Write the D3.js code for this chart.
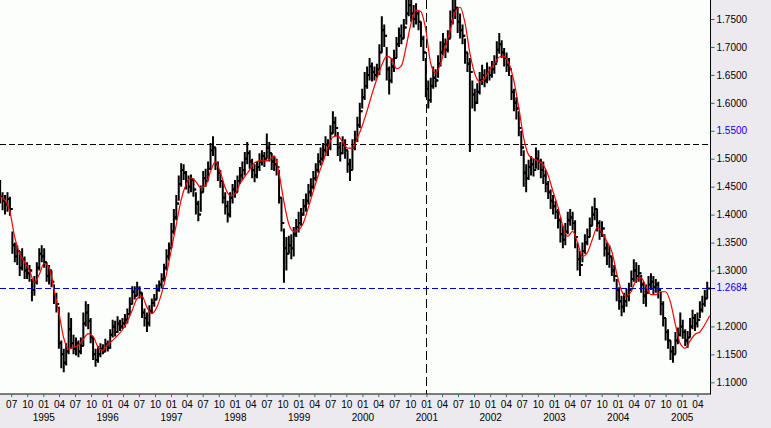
<!DOCTYPE html>
<html><head><meta charset="utf-8">
<script src="https://cdn.jsdelivr.net/npm/d3@7/dist/d3.min.js"></script>
<style>html,body{margin:0;padding:0;background:#ECEAEE;}svg{display:block;}</style>
</head><body>
<script>
// ---- data ----
const startDate = "1994-04-29";   // first bar
const barStepDays = 14;           // one bar every two weeks
const closes = [
1.432,1.425,1.418,1.428,1.410, 1.345,1.325,1.335,1.305,1.320,
1.300,1.295,1.300,1.265,1.280, 1.305,1.330,1.325,1.315,1.290,
1.300,1.280,1.255,1.240,1.170, 1.150,1.135,1.155,1.195,1.170,
1.160,1.170,1.155,1.165,1.205, 1.225,1.210,1.180,1.150,1.140,
1.150,1.160,1.155,1.168,1.162, 1.185,1.200,1.190,1.205,1.200,
1.205,1.212,1.222,1.240,1.262, 1.255,1.268,1.260,1.225,1.215,
1.205,1.228,1.242,1.248,1.265, 1.275,1.285,1.305,1.325,1.340,
1.370,1.395,1.420,1.455,1.480, 1.475,1.460,1.450,1.462,1.445,
1.420,1.400,1.440,1.465,1.460, 1.482,1.515,1.520,1.490,1.475,
1.460,1.430,1.415,1.400,1.430, 1.445,1.440,1.460,1.470,1.480,
1.500,1.510,1.495,1.480,1.470, 1.485,1.495,1.505,1.500,1.520,
1.510,1.495,1.490,1.485,1.430, 1.385,1.340,1.330,1.345,1.340,
1.365,1.378,1.385,1.400,1.415, 1.425,1.440,1.450,1.465,1.480,
1.495,1.500,1.515,1.525,1.520, 1.545,1.565,1.555,1.520,1.510,
1.525,1.515,1.490,1.480,1.520, 1.535,1.560,1.585,1.610,1.630,
1.650,1.665,1.655,1.650,1.660, 1.690,1.730,1.720,1.660,1.640,
1.665,1.680,1.705,1.720,1.715, 1.735,1.760,1.775,1.760,1.750,
1.760,1.745,1.715,1.690,1.625, 1.605,1.630,1.645,1.640,1.670,
1.690,1.705,1.695,1.715,1.745, 1.765,1.770,1.745,1.730,1.720,
1.690,1.670,1.655,1.615,1.600, 1.620,1.640,1.650,1.640,1.655,
1.650,1.660,1.670,1.695,1.705, 1.690,1.680,1.668,1.660,1.620,
1.600,1.590,1.555,1.520,1.475, 1.465,1.485,1.490,1.480,1.500,
1.495,1.480,1.470,1.455,1.440, 1.425,1.415,1.405,1.390,1.365,
1.355,1.370,1.390,1.395,1.385, 1.360,1.320,1.310,1.335,1.350,
1.360,1.380,1.400,1.410,1.385, 1.370,1.375,1.340,1.330,1.325,
1.300,1.290,1.265,1.245,1.235, 1.245,1.255,1.265,1.285,1.300,
1.290,1.295,1.275,1.255,1.260, 1.275,1.280,1.270,1.275,1.265,
1.240,1.215,1.190,1.175,1.155, 1.150,1.175,1.185,1.200,1.190,
1.175,1.180,1.200,1.215,1.205, 1.212,1.230,1.240,1.250,1.268
];
const highs = [
1.462,1.440,1.435,1.440,1.432, 1.370,1.350,1.345,1.335,1.340,
1.325,1.315,1.310,1.285,1.290, 1.315,1.340,1.345,1.340,1.315,
1.310,1.300,1.275,1.260,1.235, 1.175,1.160,1.170,1.225,1.215,
1.185,1.180,1.175,1.180,1.225, 1.245,1.240,1.215,1.180,1.160,
1.165,1.170,1.168,1.178,1.175, 1.195,1.212,1.210,1.218,1.212,
1.215,1.222,1.232,1.252,1.272, 1.272,1.280,1.272,1.260,1.232,
1.225,1.238,1.250,1.258,1.275, 1.282,1.295,1.312,1.338,1.350,
1.385,1.410,1.435,1.470,1.492, 1.490,1.478,1.470,1.472,1.465,
1.440,1.425,1.452,1.478,1.482, 1.495,1.528,1.540,1.520,1.495,
1.480,1.460,1.440,1.425,1.440, 1.455,1.462,1.470,1.485,1.495,
1.512,1.530,1.515,1.500,1.490, 1.495,1.510,1.515,1.512,1.545,
1.530,1.510,1.505,1.500,1.480, 1.430,1.375,1.360,1.362,1.365,
1.378,1.392,1.405,1.412,1.428, 1.438,1.455,1.465,1.478,1.492,
1.510,1.520,1.528,1.540,1.535, 1.560,1.585,1.575,1.548,1.530,
1.540,1.535,1.515,1.500,1.535, 1.550,1.575,1.600,1.625,1.655,
1.665,1.680,1.672,1.665,1.670, 1.705,1.755,1.740,1.700,1.665,
1.680,1.695,1.718,1.735,1.740, 1.750,1.790,1.800,1.790,1.775,
1.778,1.765,1.745,1.720,1.680, 1.640,1.645,1.665,1.660,1.685,
1.710,1.725,1.715,1.730,1.765, 1.790,1.795,1.770,1.760,1.740,
1.715,1.690,1.680,1.640,1.625, 1.635,1.655,1.668,1.660,1.672,
1.665,1.675,1.685,1.710,1.725, 1.712,1.698,1.690,1.680,1.650,
1.625,1.610,1.585,1.550,1.515, 1.490,1.498,1.505,1.500,1.520,
1.515,1.500,1.495,1.480,1.460, 1.445,1.435,1.425,1.410,1.395,
1.380,1.385,1.405,1.410,1.405, 1.390,1.350,1.335,1.350,1.365,
1.375,1.395,1.415,1.430,1.410, 1.390,1.388,1.365,1.350,1.345,
1.325,1.310,1.285,1.270,1.255, 1.260,1.268,1.278,1.300,1.320,
1.315,1.310,1.292,1.280,1.275, 1.290,1.295,1.290,1.285,1.280,
1.262,1.245,1.215,1.195,1.175, 1.165,1.190,1.198,1.225,1.212,
1.195,1.192,1.215,1.230,1.222, 1.225,1.245,1.255,1.265,1.280
];
const lows = [
1.420,1.408,1.400,1.405,1.398, 1.330,1.315,1.310,1.290,1.300,
1.285,1.285,1.280,1.245,1.255, 1.275,1.300,1.315,1.305,1.280,
1.275,1.270,1.240,1.225,1.160, 1.125,1.118,1.130,1.150,1.160,
1.150,1.148,1.145,1.150,1.165, 1.200,1.195,1.170,1.140,1.128,
1.135,1.145,1.150,1.155,1.155, 1.160,1.180,1.182,1.188,1.192,
1.195,1.198,1.205,1.220,1.240, 1.248,1.255,1.250,1.215,1.200,
1.190,1.200,1.222,1.235,1.248, 1.262,1.268,1.280,1.300,1.318,
1.340,1.365,1.390,1.425,1.450, 1.462,1.445,1.438,1.440,1.432,
1.400,1.388,1.405,1.440,1.450, 1.462,1.480,1.505,1.480,1.460,
1.448,1.420,1.400,1.386,1.395, 1.420,1.430,1.440,1.455,1.462,
1.470,1.490,1.482,1.465,1.458, 1.465,1.478,1.488,1.485,1.500,
1.495,1.480,1.478,1.470,1.420, 1.370,1.278,1.300,1.330,1.320,
1.325,1.360,1.368,1.380,1.398, 1.405,1.418,1.432,1.445,1.460,
1.475,1.488,1.495,1.505,1.505, 1.515,1.545,1.540,1.505,1.495,
1.508,1.500,1.475,1.460,1.480, 1.515,1.530,1.555,1.590,1.605,
1.625,1.640,1.638,1.640,1.645, 1.650,1.690,1.700,1.640,1.615,
1.635,1.655,1.680,1.700,1.705, 1.715,1.740,1.755,1.745,1.735,
1.740,1.730,1.700,1.675,1.610, 1.590,1.600,1.625,1.628,1.645,
1.665,1.685,1.680,1.690,1.715, 1.740,1.750,1.725,1.715,1.705,
1.670,1.655,1.512,1.590,1.585, 1.598,1.615,1.632,1.628,1.635,
1.640,1.645,1.652,1.672,1.688, 1.680,1.665,1.655,1.648,1.605,
1.585,1.570,1.540,1.505,1.450, 1.440,1.462,1.470,1.468,1.482,
1.480,1.465,1.455,1.440,1.428, 1.410,1.400,1.392,1.375,1.350,
1.340,1.345,1.365,1.380,1.372, 1.340,1.300,1.290,1.315,1.330,
1.345,1.360,1.380,1.390,1.370, 1.355,1.360,1.325,1.310,1.305,
1.290,1.280,1.245,1.230,1.218, 1.225,1.235,1.245,1.270,1.280,
1.278,1.280,1.260,1.240,1.235, 1.260,1.265,1.258,1.260,1.250,
1.220,1.200,1.175,1.160,1.140, 1.135,1.150,1.168,1.182,1.178,
1.165,1.162,1.180,1.195,1.192, 1.198,1.215,1.225,1.235,1.250
];
// red moving-average line, one value every 28 days from startDate
const maStepDays = 28;
const maValues = [
1.432,1.426,1.405,1.359,1.330,1.315,1.300,1.279,1.293,1.313,
1.305,1.266,1.225,1.179,1.160,1.163,1.166,1.177,1.187,1.182,
1.163,1.157,1.168,1.175,1.184,1.194,1.209,1.229,1.250,1.254,
1.234,1.223,1.234,1.259,1.294,1.338,1.382,1.427,1.454,1.466,
1.459,1.448,1.452,1.477,1.495,1.476,1.448,1.434,1.437,1.455,
1.468,1.480,1.493,1.496,1.496,1.498,1.505,1.474,1.423,1.383,
1.370,1.373,1.386,1.413,1.442,1.470,1.495,1.520,1.539,1.541,
1.530,1.519,1.519,1.537,1.559,1.586,1.616,1.643,1.668,1.683,
1.679,1.661,1.666,1.702,1.743,1.766,1.763,1.730,1.670,1.653,
1.670,1.700,1.730,1.763,1.771,1.743,1.689,1.652,1.638,1.643,
1.658,1.670,1.682,1.683,1.670,1.639,1.591,1.537,1.507,1.500,
1.496,1.489,1.470,1.441,1.414,1.379,1.361,1.370,1.350,1.325,
1.332,1.355,1.377,1.368,1.352,1.334,1.295,1.264,1.254,1.263,
1.283,1.287,1.271,1.257,1.257,1.262,1.262,1.243,1.203,1.169,
1.161,1.174,1.186,1.190,1.203,1.219
];
const yTickValues = [1.75,1.70,1.65,1.60,1.55,1.50,1.45,1.40,1.35,1.30,1.20,1.15,1.10];
const blueTickLabels = ["1.5500"];
const lastPrice = 1.2684;
const lastPriceLabel = "1.2684";
const levelLine = 1.5265;
const markerDate = "2000-12-28";
const xDomainDates = ["1995-01-01","2005-01-01"];
const firstTick = "1994-07-01", lastTick = "2005-04-01";

// ---- layout ----
const W = 771, H = 428, plotR = 710.5, plotB = 394;
const parse = d3.timeParse("%Y-%m-%d");
const x = d3.scaleTime().domain(xDomainDates.map(parse)).range([43.3, 681.7]);
const y = d3.scaleLinear().domain([1.10, 1.75]).range([382.3, 19]);
const FONT = '"Liberation Sans", Arial, sans-serif';

const svg = d3.select("body").append("svg").attr("width", W).attr("height", H);
svg.append("rect").attr("width", W).attr("height", H).attr("fill", "#ECEAEE");
svg.append("rect").attr("x", 0).attr("y", 0).attr("width", plotR).attr("height", plotB).attr("fill", "#FBFEFB");
svg.append("defs").append("clipPath").attr("id", "clip")
  .append("rect").attr("x", 0).attr("y", 0).attr("width", plotR).attr("height", plotB);

const plot = svg.append("g").attr("clip-path", "url(#clip)");

// reference lines
plot.append("line").attr("x1", 0).attr("x2", plotR)
  .attr("y1", Math.round(y(levelLine)) + 0.5).attr("y2", Math.round(y(levelLine)) + 0.5)
  .attr("stroke", "#000").attr("stroke-dasharray", "6,3");
const mx = Math.round(x(parse(markerDate))) + 0.5;
plot.append("line").attr("x1", mx).attr("x2", mx).attr("y1", 0).attr("y2", plotB)
  .attr("stroke", "#000").attr("stroke-dasharray", "9,4");

// bars
const start = parse(startDate);
const bars = closes.map((c, i) => ({
  date: d3.timeDay.offset(start, i * barStepDays),
  o: i > 0 ? closes[i - 1] : c, h: highs[i], l: lows[i], c: c
}));
plot.append("g").selectAll("path").data(bars).join("path")
  .attr("fill", "none").attr("stroke", "#000").attr("stroke-width", 2)
  .attr("d", d => {
    const cx = x(d.date);
    return `M${cx},${y(d.h)}V${y(d.l)}M${cx - 2.8},${y(d.o)}H${cx}M${cx},${y(d.c)}H${cx + 2.8}`;
  });

// moving average
const ma = maValues.map((v, j) => ({ date: d3.timeDay.offset(start, j * maStepDays), v }));
plot.append("path").datum(ma)
  .attr("fill", "none").attr("stroke", "#FF0000").attr("stroke-width", 1.2)
  .attr("d", d3.line().x(d => x(d.date)).y(d => y(d.v)).curve(d3.curveMonotoneX));

// last price line (extends past the axis)
const ly = Math.round(y(lastPrice)) + 0.5;
svg.append("line").attr("x1", 0).attr("x2", 715).attr("y1", ly).attr("y2", ly)
  .attr("stroke", "#0000CC").attr("stroke-dasharray", "6,3");

// axis lines
svg.append("line").attr("x1", plotR).attr("x2", plotR).attr("y1", 0).attr("y2", plotB + 0.5).attr("stroke", "#000");
svg.append("line").attr("x1", 0).attr("x2", plotR).attr("y1", plotB).attr("y2", plotB).attr("stroke", "#000");

// y axis
const yAxis = svg.append("g").attr("transform", `translate(${plotR},0)`)
  .call(d3.axisRight(y).tickValues(yTickValues).tickFormat(d3.format(".4f")).tickSize(4).tickPadding(2));
yAxis.select(".domain").remove();
yAxis.selectAll(".tick line").attr("stroke", "#008080");
yAxis.selectAll(".tick text").attr("font-family", FONT).attr("font-size", 10)
  .attr("fill", function () { return blueTickLabels.includes(this.textContent) ? "#0000FF" : "#000"; });
svg.append("text").attr("x", plotR + 6).attr("y", y(lastPrice)).attr("dy", "0.32em")
  .attr("font-family", FONT).attr("font-size", 10).attr("fill", "#0000FF").text(lastPriceLabel);

// x axis: quarter months
const qTicks = d3.timeMonth.every(3).range(parse(firstTick), d3.timeDay.offset(parse(lastTick), 1));
const xAxis = svg.append("g").attr("transform", `translate(0,${plotB})`)
  .call(d3.axisBottom(x).tickValues(qTicks).tickFormat(d3.timeFormat("%m")).tickSize(3).tickPadding(3.5));
xAxis.select(".domain").remove();
xAxis.selectAll(".tick line").attr("stroke", "#008080");
xAxis.selectAll(".tick text").attr("font-family", FONT).attr("font-size", 10).attr("fill", "#000");

// x axis: years under January
const yTicks = d3.timeYear.range(parse("1995-01-01"), parse("2005-12-31"));
const yrAxis = svg.append("g").attr("transform", `translate(0,${plotB})`)
  .call(d3.axisBottom(x).tickValues(yTicks).tickFormat(d3.timeFormat("%Y")).tickSize(0).tickPadding(19.5));
yrAxis.select(".domain").remove();
yrAxis.selectAll(".tick text").attr("font-family", FONT).attr("font-size", 10).attr("fill", "#000");
</script>
</body></html>
